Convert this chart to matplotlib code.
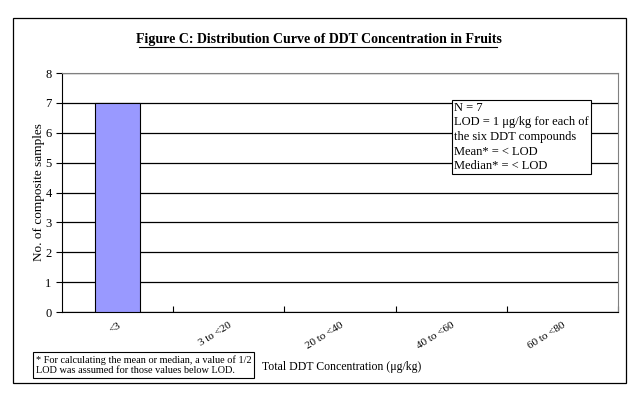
import matplotlib.pyplot as plt
from matplotlib.patches import Rectangle
import numpy as np

plt.rcParams['font.family'] = ['Liberation Serif', 'DejaVu Serif']

categories = ["<3", "3 to <20", "20 to <40", "40 to <60", "60 to <80"]
counts = [7, 0, 0, 0, 0]

fig = plt.figure(figsize=(6.37, 3.99), dpi=100)
ax = fig.add_axes([0.0973, 0.218, 0.873, 0.599])

x = np.arange(len(categories))
ax.bar(x[:1], counts[:1], width=0.4, color='#9999ff', edgecolor='black', linewidth=0.8, zorder=3)

ax.set_xlim(-0.5, len(categories) - 0.5)
ax.set_ylim(0, 8)
ax.set_yticks(range(0, 9))
ax.yaxis.grid(True, color='black', linewidth=0.9, zorder=0)
ax.set_axisbelow(True)
ax.tick_params(axis='y', labelsize=9, length=4, width=0.8)

ax.set_xticks(x + 0.5, minor=False)
ax.set_xticklabels([])
ax.set_xticks(x, minor=True)
ax.set_xticklabels(categories, minor=True, rotation=32, ha='right', va='top',
                   rotation_mode='anchor', fontsize=8)
ax.tick_params(axis='x', which='major', length=4, width=0.8, direction='in')
ax.tick_params(axis='x', which='minor', length=0, pad=6)

for side in ['top', 'right']:
    ax.spines[side].set_color('#808080')
for side in ['left', 'bottom']:
    ax.spines[side].set_color('black')

ax.set_ylabel("No. of composite samples", fontsize=9.5, labelpad=0)

fig.text(0.5, 0.9, "Figure C: Distribution Curve of DDT Concentration in Fruits",
         ha='center', va='center', fontsize=10, fontweight='bold')
fig.add_artist(plt.Line2D([0.218, 0.781], [0.881, 0.881], color='black', linewidth=0.8))

ax.text(0.705, 0.88, "N = 7\nLOD = 1 \u03bcg/kg for each of\nthe six DDT compounds\nMean* = < LOD\nMedian* = < LOD",
        transform=ax.transAxes, ha='left', va='top', fontsize=9, linespacing=1.3,
        bbox=dict(boxstyle='square,pad=0.15', facecolor='white', edgecolor='black', linewidth=0.8),
        zorder=5)

fig.text(0.056, 0.085, "* For calculating the mean or median, a value of 1/2\nLOD was assumed for those values below LOD.",
         ha='left', va='center', fontsize=7.4, linespacing=1.25,
         bbox=dict(boxstyle='square,pad=0.3', facecolor='white', edgecolor='black', linewidth=0.8))
fig.text(0.412, 0.08, "Total DDT Concentration (\u03bcg/kg)", ha='left', va='center', fontsize=8.5)

fig.add_artist(Rectangle((0.02, 0.04), 0.963, 0.915, transform=fig.transFigure,
                         fill=False, edgecolor='black', linewidth=0.9))

fig.savefig("out.png", dpi=100)
